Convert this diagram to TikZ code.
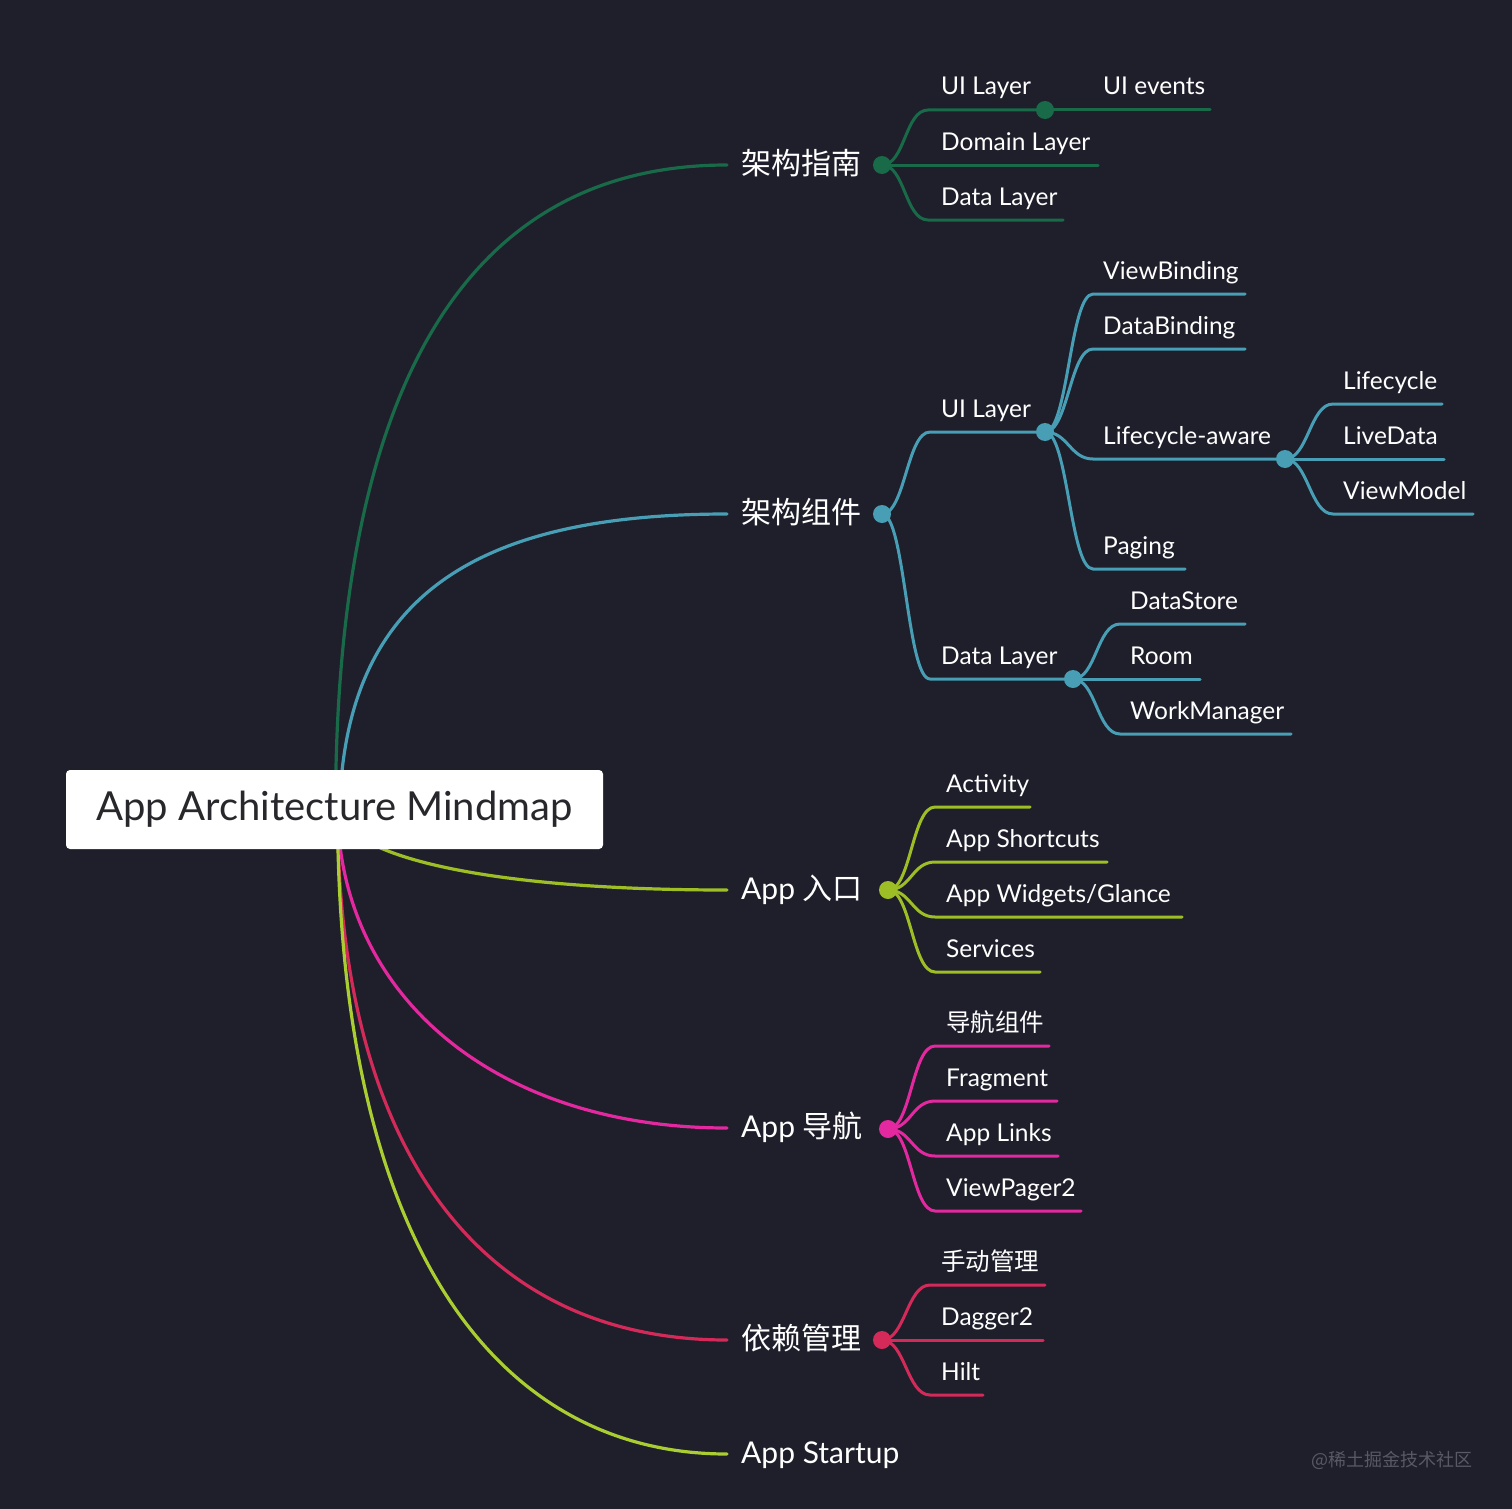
\documentclass[tikz,border=0pt]{standalone}
\usepackage{fontspec}
\setmainfont{Lato}
\newfontfamily\cjk{Noto Sans CJK SC}
\usetikzlibrary{calc,backgrounds}
\definecolor{bg}{RGB}{30,31,43}
\definecolor{cgreen}{RGB}{24,106,72}
\definecolor{cteal}{RGB}{72,158,180}
\definecolor{colive}{RGB}{158,190,38}
\definecolor{clime}{RGB}{170,205,50}
\definecolor{cmag}{RGB}{228,40,160}
\definecolor{ccrim}{RGB}{212,42,90}
\definecolor{rootc}{RGB}{40,40,44}
\definecolor{wmark}{RGB}{88,89,100}
\tikzset{
  lbl/.style={font=\fontsize{24.5}{30}\selectfont, text=white, anchor=base west, inner sep=0pt},
  toplbl/.style={font=\fontsize{30}{36}\selectfont, text=white, anchor=base west, inner sep=0pt},
  ln/.style={line width=3pt, line cap=round},
  mainln/.style={line width=3.2pt, line cap=round},
}
\newcommand\kid[7]{%
  \coordinate (#2s) at (#3,#4);
  \coordinate (#2e) at (#5,#4);
  \draw[ln] (#1) .. controls +(23,0) and +(-23,0) .. (#2s) -- (#2e);
  \node[lbl] (#2) at (#6,#4-15) {#7};
}
\newcommand\mydot[1]{\fill (#1) circle[radius=9pt];}
\begin{document}
\begin{tikzpicture}[x=1pt,y=-1pt]
\useasboundingbox (0,0) rectangle (1512,1509);

% root
\node[fill=white, rounded corners=4pt, minimum width=537pt, minimum height=79pt,
      text=rootc, font=\fontsize{40}{48}\selectfont, inner sep=0pt] (root) at (334.5,809.5) {App Architecture Mindmap};

% level-1 labels and endpoints
\coordinate (A) at (727,165);
\coordinate (B) at (727,514);
\coordinate (C) at (727,890);
\coordinate (D) at (727,1128);
\coordinate (E) at (727,1340);
\coordinate (F) at (727,1454);
\node[toplbl] (la) at (741,174) {\cjk 架构指南};
\node[toplbl] (lb) at (741,523) {\cjk 架构组件};
\node[toplbl] (lc) at (741,899) {App {\cjk 入口}};
\node[toplbl] (ld) at (741,1137) {App {\cjk 导航}};
\node[toplbl] (le) at (741,1349) {\cjk 依赖管理};
\node[toplbl] (lf) at (741,1463) {App Startup};

\begin{pgfonlayer}{background}
\fill[bg] (0,0) rectangle (1512,1509);
\draw[mainln, cgreen] ([xshift=1pt]root.center) .. controls (336,380) and (470,165) .. (A);
\draw[mainln, cteal] ([xshift=5pt]root.center) .. controls (345,600) and (470,514) .. (B);
\draw[mainln, colive] ([xshift=3pt]root.center) .. controls (345,855) and (480,890) .. (C);
\draw[mainln, cmag] ([xshift=3pt]root.center) .. controls (340,1000) and (500,1128) .. (D);
\draw[mainln, ccrim] ([xshift=3pt]root.center) .. controls (338,1150) and (480,1340) .. (E);
\draw[mainln, clime] ([xshift=3pt]root.center) .. controls (338,1250) and (500,1454) .. (F);
\end{pgfonlayer}

% ---- 架构指南
\begin{scope}[draw=cgreen, fill=cgreen]
\coordinate (ga) at (882,165);
\coordinate (gb) at (1045,110);
\kid{ga}{gui}{928}{110}{1045}{941}{UI Layer}
\kid{ga}{gdom}{883}{165}{1098}{941}{Domain Layer}
\kid{ga}{gdata}{928}{220}{1063}{941}{Data Layer}
\kid{gb}{gev}{1046}{110}{1210}{1103}{UI events}
\mydot{ga}\mydot{gb}
\end{scope}

% ---- 架构组件
\begin{scope}[draw=cteal, fill=cteal]
\coordinate (ta) at (882,514);
\coordinate (tb) at (1045,432);
\coordinate (tc) at (1285,459);
\coordinate (td) at (1073,679);
\kid{ta}{tui}{930}{432}{1045}{941}{UI Layer}
\kid{ta}{tdl}{930}{679}{1073}{941}{Data Layer}
\kid{tb}{tvb}{1093}{294}{1245}{1103}{ViewBinding}
\kid{tb}{tdb}{1093}{349}{1245}{1103}{DataBinding}
\kid{tb}{tla}{1093}{459}{1285}{1103}{Lifecycle-aware}
\kid{tb}{tpg}{1093}{569}{1185}{1103}{Paging}
\kid{tc}{tlc}{1333}{404}{1442}{1343}{Lifecycle}
\kid{tc}{tld}{1286}{459}{1444}{1343}{LiveData}
\kid{tc}{tvm}{1333}{514}{1473}{1343}{ViewModel}
\kid{td}{tds}{1120}{624}{1245}{1130}{DataStore}
\kid{td}{trm}{1074}{679}{1200}{1130}{Room}
\kid{td}{twm}{1120}{734}{1291}{1130}{WorkManager}
\mydot{ta}\mydot{tb}\mydot{tc}\mydot{td}
\end{scope}

% ---- App 入口
\begin{scope}[draw=colive, fill=colive]
\coordinate (oa) at (888,890);
\kid{oa}{oact}{935}{807}{1030}{946}{Activity}
\kid{oa}{osc}{935}{862}{1107}{946}{App Shortcuts}
\kid{oa}{owg}{935}{917}{1182}{946}{App Widgets/Glance}
\kid{oa}{osv}{935}{972}{1040}{946}{Services}
\mydot{oa}
\end{scope}

% ---- App 导航
\begin{scope}[draw=cmag, fill=cmag]
\coordinate (ma) at (888,1129);
\kid{ma}{mnav}{935}{1046}{1049}{946}{\cjk 导航组件}
\kid{ma}{mfr}{935}{1101}{1057}{946}{Fragment}
\kid{ma}{mal}{935}{1156}{1058}{946}{App Links}
\kid{ma}{mvp}{935}{1211}{1081}{946}{ViewPager2}
\mydot{ma}
\end{scope}

% ---- 依赖管理
\begin{scope}[draw=ccrim, fill=ccrim]
\coordinate (ca) at (882,1340);
\kid{ca}{cman}{930}{1285}{1045}{941}{\cjk 手动管理}
\kid{ca}{cdag}{883}{1340}{1043}{941}{Dagger2}
\kid{ca}{chilt}{930}{1395}{983}{941}{Hilt}
\mydot{ca}
\end{scope}

% watermark
\node[text=wmark, font=\cjk\fontsize{18}{20}\selectfont, anchor=east, inner sep=0pt] (wm) at (1473,1460) {@稀土掘金技术社区};
\end{tikzpicture}
\end{document}
